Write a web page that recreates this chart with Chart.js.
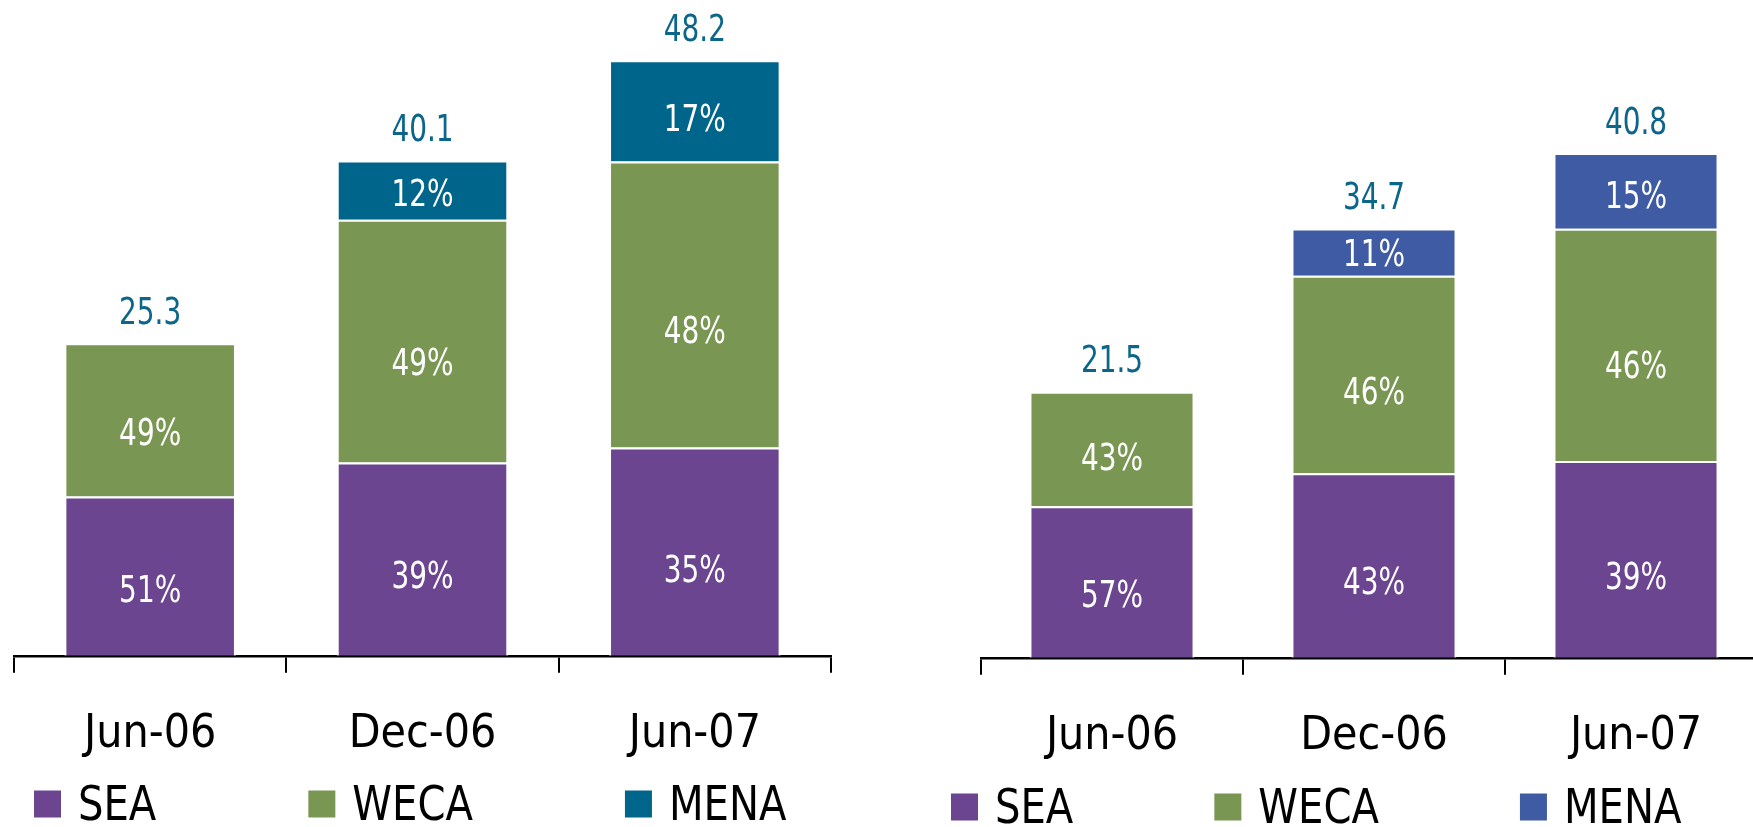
<!DOCTYPE html>
<html>
<head>
<meta charset="utf-8">
<script src="https://cdn.jsdelivr.net/npm/chart.js@4/dist/chart.umd.min.js"></script>
<style>
html,body{margin:0;padding:0;background:#fff;overflow:hidden;width:1753px;height:827px;}
.caja{position:absolute;width:850px;height:850px;}
#izq{left:0;top:0;}
#der{left:940px;top:2px;}
</style>
</head>
<body>
<div class="caja" id="izq"><canvas id="grafIzq"></canvas></div>
<div class="caja" id="der"><canvas id="grafDer"></canvas></div>
<script>
const categorias=["Jun-06","Dec-06","Jun-07"];
const series=["SEA","WECA","MENA"];

const totalesIzq=[25.3,40.1,48.2];
const seaIzq=[51,39,35];
const wecaIzq=[49,49,48];
const menaIzq=[null,12,17];

const totalesDer=[21.5,34.7,40.8];
const seaDer=[57,43,39];
const wecaDer=[43,46,46];
const menaDer=[null,11,15];

const colores={SEA:"#6B458F",WECA:"#7A9653",MENA:"#00658A"};
const colorMenaDer="#3F5BA4";
const colorTotal="#0B668A";
const fuente="'Liberation Sans Narrow','DejaVu Sans Condensed',sans-serif";

// valores absolutos de cada segmento
function segmento(totales,pct){
return totales.map((t,i)=>pct[i]==null?null:t*pct[i]/100);
}

// texto angosto, como el original
function textoAngosto(ctx,txt,x,y,esc){
ctx.save();
ctx.translate(x,y);
ctx.scale(esc,1);
ctx.fillText(txt,0,0);
ctx.restore();
}

const etiquetas={
id:"etiquetas",
afterDatasetsDraw(chart,args,o){
const ctx=chart.ctx;
ctx.save();
ctx.textAlign="center";
ctx.textBaseline="middle";
chart.data.datasets.forEach((ds,i)=>{
let meta=chart.getDatasetMeta(i);
meta.data.forEach((bar,j)=>{
if(ds.pct[j]==null) return;
let h=bar.base-bar.y;
ctx.fillStyle="#fff";
ctx.font="37px "+fuente;
textoAngosto(ctx,ds.pct[j]+"%",bar.x,bar.y+h*0.6,0.84);
});
});
o.totales.forEach((t,j)=>{
let tope=null;
chart.data.datasets.forEach((ds,i)=>{
if(ds.data[j]!=null) tope=chart.getDatasetMeta(i).data[j];
});
ctx.fillStyle=colorTotal;
ctx.font="37px "+fuente;
textoAngosto(ctx,t.toFixed(1),tope.x,tope.y-29,0.84);
});
ctx.restore();
}
};

const leyenda={
id:"leyenda",
afterDraw(chart,args,o){
const ctx=chart.ctx;
ctx.save();
ctx.font="48px "+fuente;
ctx.textAlign="left";
ctx.textBaseline="middle";
let x=o.x;
chart.data.datasets.forEach(ds=>{
ctx.fillStyle=ds.backgroundColor;
ctx.fillRect(x,o.y-13.5,27,27);
ctx.fillStyle="#000";
textoAngosto(ctx,ds.label,x+44,o.y+4,0.93);
x+=44+ctx.measureText(ds.label).width*0.93+o.separacion;
});
ctx.restore();
}
};

function crear(id,totales,sea,weca,mena,colorMena,relleno,ley){
return new Chart(document.getElementById(id),{
type:"bar",
data:{
labels:categorias,
datasets:[
{label:series[0],data:segmento(totales,sea),pct:sea,backgroundColor:colores.SEA},
{label:series[1],data:segmento(totales,weca),pct:weca,backgroundColor:colores.WECA},
{label:series[2],data:segmento(totales,mena),pct:mena,backgroundColor:colorMena}
]
},
options:{
responsive:true,
maintainAspectRatio:false,
animation:false,
layout:{padding:relleno},
datasets:{bar:{barPercentage:0.63,categoryPercentage:1,borderColor:"#fff",borderWidth:2,borderSkipped:"start"}},
scales:{
x:{
stacked:true,
offset:true,
grid:{display:true,drawOnChartArea:false,drawTicks:true,tickLength:17,offset:true,color:"#000",lineWidth:2},
border:{display:true,color:"#000",width:2.5},
ticks:{color:"#000",padding:35,font:{family:fuente,size:46}}
},
y:{stacked:true,display:false,min:0,max:53}
},
plugins:{
legend:{display:false},
tooltip:{enabled:false},
etiquetas:{totales:totales},
leyenda:ley
}
},
plugins:[etiquetas,leyenda]
});
}

crear("grafIzq",totalesIzq,seaIzq,wecaIzq,menaIzq,colores.MENA,
{top:1,left:14,right:19,bottom:52},{x:34,y:804,separacion:152});

crear("grafDer",totalesDer,seaDer,wecaDer,menaDer,colorMenaDer,
{top:0,left:41,right:23,bottom:52},{x:11,y:805,separacion:141});
</script>
</body>
</html>
